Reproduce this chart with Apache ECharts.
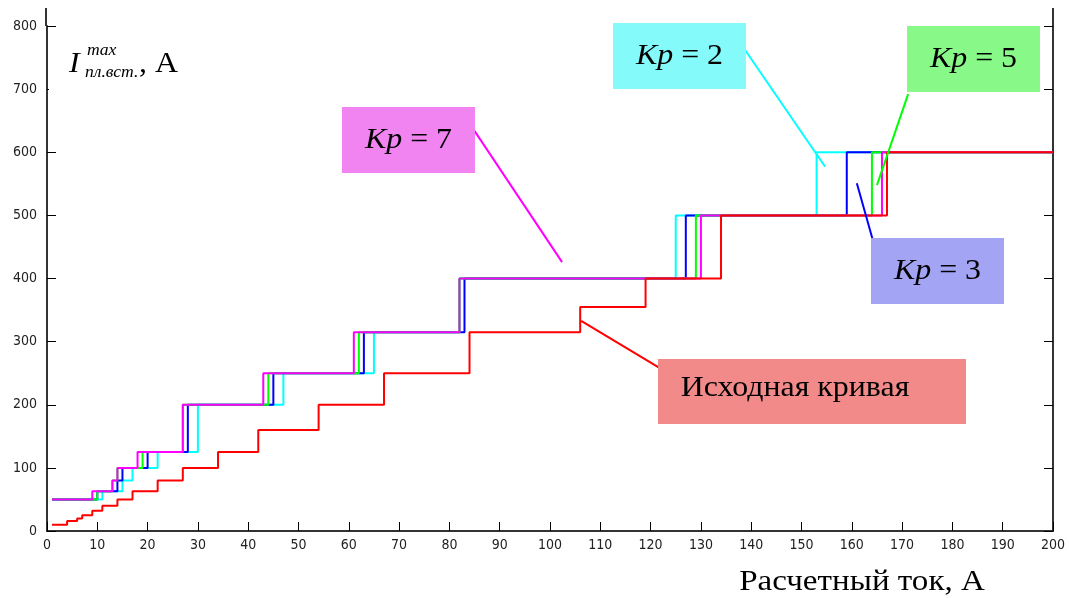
<!DOCTYPE html>
<html><head><meta charset="utf-8">
<script src="https://cdn.jsdelivr.net/npm/echarts@6/dist/echarts.min.js"></script>
<style>html,body{margin:0;padding:0;background:#fff}#c{width:1069px;height:598px}</style>
</head><body><div id="c"></div>
<script>
// Data
const kpLevels = [50, 63, 80, 100, 125, 200, 250, 315, 400, 500, 600];
const kp2X = [1, 11, 15, 17, 22, 30, 47, 65, 82, 125, 153];
const kp3X = [1, 10, 14, 15, 20, 28, 45, 63, 83, 127, 159];
const kp5X = [1, 10, 13, 14, 19, 27, 44, 62, 82, 129, 164];
const kp7X = [1, 9, 13, 14, 18, 27, 43, 61, 82, 130, 166];
const baseLevels = [10, 16, 20, 25, 32, 40, 50, 63, 80, 100, 125, 160, 200, 250, 315, 355, 400, 500, 600];
const baseX = [1, 4, 6, 7, 9, 11, 14, 17, 22, 27, 34, 42, 54, 67, 84, 106, 119, 134, 167];
const xEnd = 200;
const xTicks = [0, 200, 10];
const yTicks = [0, 800, 100];
// leader lines in data coords [from, to]
const leaders = {
  kp7: [[83.3, 654], [102.4, 426]],
  kp2: [[138.0, 771], [154.7, 577]],
  kp5: [[171.2, 692], [165.0, 548]],
  kp3: [[161.0, 551], [165.2, 432]],
  base: [[106.2, 333], [123.5, 250]]
};

function build(xs, levels) {
  const d = xs.map((x, i) => [x, levels[i]]);
  d.push([xEnd, levels[levels.length - 1]]);
  return d;
}
function ser(name, xs, levels, color, lead) {
  return {
    name, type: 'line', step: 'end', showSymbol: false, data: build(xs, levels),
    lineStyle: {color, width: 2}, itemStyle: {color}, animation: false,
    markLine: {silent: true, symbol: 'none', animation: false, label: {show: false},
      lineStyle: {color, width: 2, type: 'solid'},
      data: [[{coord: lead[0]}, {coord: lead[1]}]]}
  };
}

const chart = echarts.init(document.getElementById('c'), null, {renderer: 'canvas'});
const axisCol = '#333';
const labelFont = {fontFamily: '"Liberation Sans Narrow","DejaVu Sans Condensed",sans-serif', fontSize: 14, color: '#222'};
const serif = 'Liberation Serif, "DejaVu Serif", serif';
const SX = 1.1;

function kpBox(x, y, w, h, fill, num) {
  return [
    {type: 'rect', shape: {x, y, width: w, height: h}, style: {fill}, z: 50},
    {type: 'text', x: x + w / 2, y: y + h / 2, z: 51, scaleX: SX,
      style: {text: '{i|Kp} = ' + num, align: 'center', verticalAlign: 'middle',
        rich: {i: {fontStyle: 'italic', fontFamily: serif, fontSize: 29, fill: '#000'}},
        fontFamily: serif, fontSize: 29, fill: '#000'}}
  ];
}

chart.setOption({
  animation: false,
  grid: {left: 47, right: 16, top: 26, bottom: 67},
  xAxis: {type: 'value', min: xTicks[0], max: xTicks[1], interval: xTicks[2],
    axisLine: {lineStyle: {color: axisCol, width: 2}},
    axisTick: {inside: true, length: 9, lineStyle: {color: '#000', width: 1}},
    axisLabel: Object.assign({margin: 7}, labelFont), splitLine: {show: false}},
  yAxis: [
    {type: 'value', min: yTicks[0], max: yTicks[1], interval: yTicks[2],
      axisLine: {show: true, lineStyle: {color: axisCol, width: 2}},
      axisTick: {show: true, inside: true, length: 9, lineStyle: {color: '#000', width: 1}},
      axisLabel: Object.assign({margin: 10}, labelFont), splitLine: {show: false}},
    {type: 'value', position: 'right', min: yTicks[0], max: yTicks[1], interval: yTicks[2],
      axisLine: {show: true, lineStyle: {color: axisCol, width: 2}},
      axisTick: {show: true, inside: true, length: 9, lineStyle: {color: '#000', width: 1}},
      axisLabel: {show: false}, splitLine: {show: false}}
  ],
  series: [
    ser('Kp = 2', kp2X, kpLevels, '#00ffff', leaders.kp2),
    ser('Kp = 3', kp3X, kpLevels, '#0000ff', leaders.kp3),
    ser('Kp = 5', kp5X, kpLevels, '#00ff00', leaders.kp5),
    ser('Kp = 7', kp7X, kpLevels, '#ff00ff', leaders.kp7),
    ser('Исходная кривая', baseX, baseLevels, '#ff0000', leaders.base)
  ],
  graphic: [
    {type: 'line', shape: {x1: 46, y1: 8, x2: 46, y2: 26}, style: {stroke: axisCol, lineWidth: 2}},
    {type: 'line', shape: {x1: 1053, y1: 8, x2: 1053, y2: 26}, style: {stroke: axisCol, lineWidth: 2}},
    {type: 'rect', shape: {x: 49, y: 28, width: 150, height: 70}, style: {fill: '#fff'}, z: 40},
    {type: 'text', x: 69, y: 50, z: 41, scaleX: SX, style: {text: 'I', fontFamily: serif, fontStyle: 'italic', fontSize: 29, fill: '#000'}},
    {type: 'text', x: 87, y: 43, z: 41, scaleX: SX, style: {text: 'max', fontFamily: serif, fontStyle: 'italic', fontSize: 16, fill: '#000'}},
    {type: 'text', x: 85, y: 65, z: 41, scaleX: SX, style: {text: 'пл.вст.', fontFamily: serif, fontStyle: 'italic', fontSize: 16, fill: '#000'}},
    {type: 'text', x: 139, y: 50, z: 41, scaleX: SX, style: {text: ', А', fontFamily: serif, fontSize: 29, fill: '#000'}},
    {type: 'text', x: 862, y: 582, scaleX: 1.14, style: {text: 'Расчетный ток, А', fontFamily: serif, fontSize: 29, fill: '#000', align: 'center', verticalAlign: 'middle'}},
    ...kpBox(342, 107, 133, 66, '#f284f2', 7),
    ...kpBox(613, 23, 133, 66, '#84fafa', 2),
    ...kpBox(907, 26, 133, 66, '#88f888', 5),
    ...kpBox(871, 238, 133, 66, '#a4a4f4', 3),
    {type: 'rect', shape: {x: 658, y: 359, width: 308, height: 65}, style: {fill: '#f28a8a'}, z: 50},
    {type: 'text', x: 795, y: 388, z: 51, scaleX: 1.1, style: {text: 'Исходная кривая', fontFamily: serif, fontSize: 29, fill: '#000', align: 'center', verticalAlign: 'middle'}}
  ]
});
</script></body></html>
